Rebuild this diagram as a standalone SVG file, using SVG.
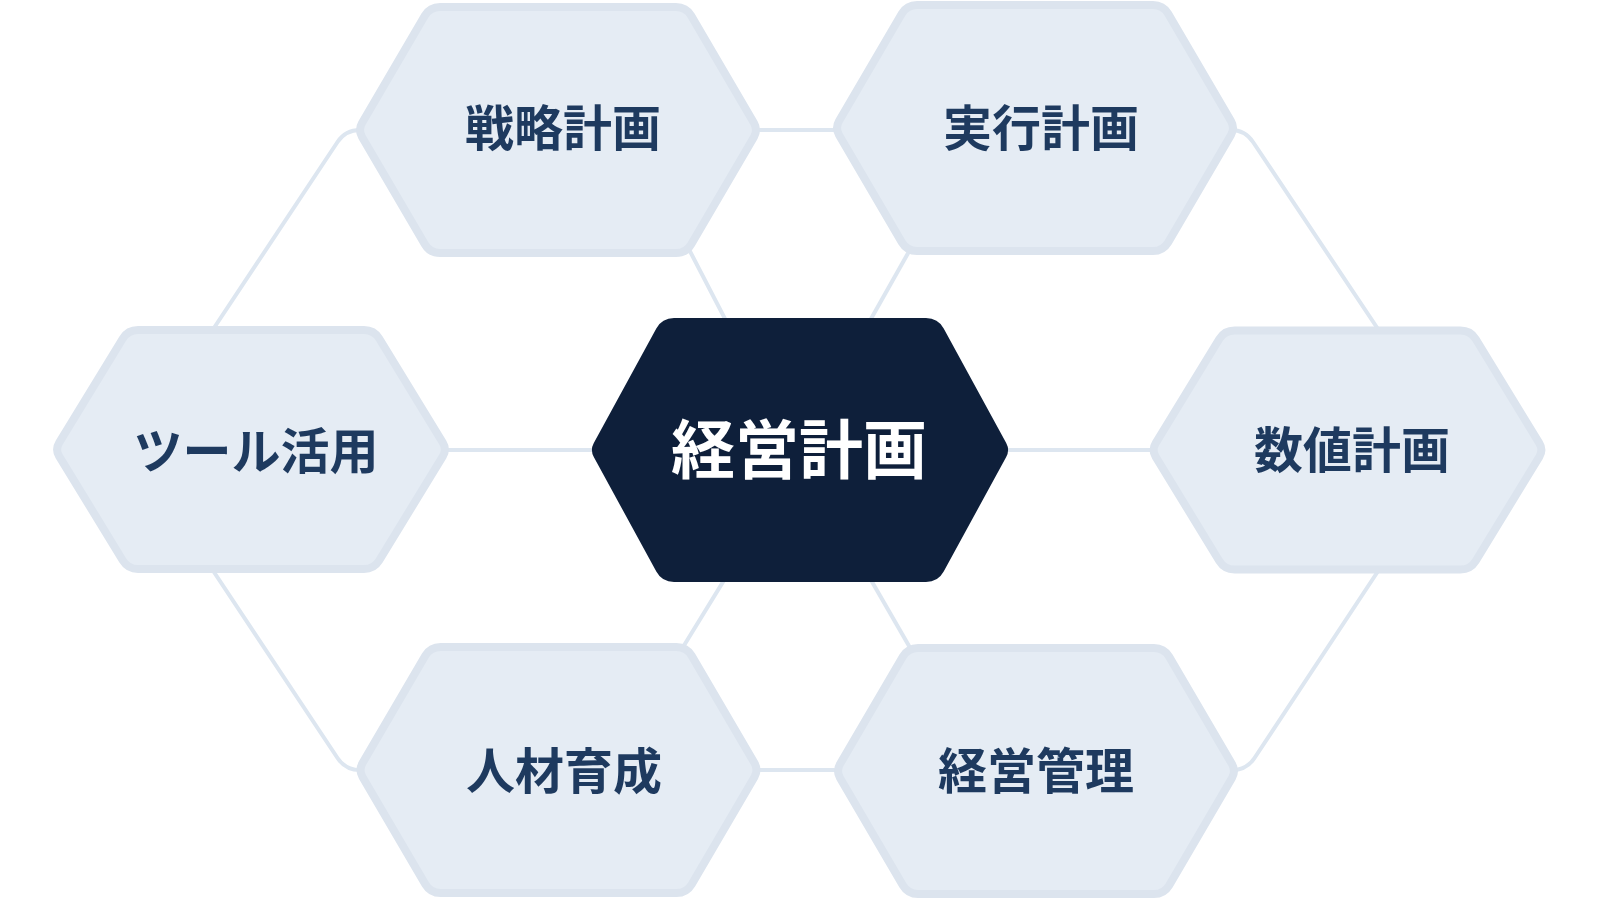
<svg xmlns="http://www.w3.org/2000/svg" xmlns:xlink="http://www.w3.org/1999/xlink" width="1600" height="900" viewBox="0 0 1600 900">
  <style>
    .hex { fill: #e5ecf4; stroke: #dce4ee; stroke-width: 8; stroke-linejoin: round; }
    .core { fill: #0e1f3a; }
    .lbl { font-family: "Noto Sans CJK JP", "Noto Sans", sans-serif; font-weight: 700; font-size: 49px; fill: #1e3a5f; text-anchor: middle; dominant-baseline: central; }
    .lbl-core { font-family: "Noto Sans CJK JP", "Noto Sans", sans-serif; font-weight: 700; font-size: 64px; fill: #ffffff; text-anchor: middle; dominant-baseline: central; }
    .conn { fill: none; stroke: #dde6f0; stroke-width: 4; stroke-linecap: round; stroke-linejoin: round; }
  </style>
  <defs>
    <path id="hexA" d="M -196,-6.9 L -133.1,-114.4 Q -128,-123 -118,-123 L 118,-123 Q 128,-123 133.1,-114.4 L 196,-6.9 Q 200,0 196,6.9 L 133.1,114.4 Q 128,123 118,123 L -118,123 Q -128,123 -133.1,114.4 L -196,6.9 Q -200,0 -196,-6.9 Z"/>
    <path id="hexB" d="M -191.8,-6.8 L -128.2,-111 Q -123,-119.5 -113,-119.5 L 113,-119.5 Q 123,-119.5 128.2,-111 L 191.8,-6.8 Q 196,0 191.8,6.8 L 128.2,111 Q 123,119.5 113,119.5 L -113,119.5 Q -123,119.5 -128.2,111 L -191.8,6.8 Q -196,0 -191.8,-6.8 Z"/>
    <path id="hexC" d="M -206.2,-7 L -143.7,-121.5 Q -138,-132 -126,-132 L 126,-132 Q 138,-132 143.7,-121.5 L 206.2,-7 Q 210,0 206.2,7 L 143.7,121.5 Q 138,132 126,132 L -126,132 Q -138,132 -143.7,121.5 L -206.2,7 Q -210,0 -206.2,-7 Z"/>
  </defs>
  <rect x="0" y="0" width="1600" height="900" fill="#ffffff"/>

  <g id="connectors">
    <line class="conn" x1="558" y1="130" x2="1035" y2="130"/>
    <line class="conn" x1="558" y1="770" x2="1036" y2="770"/>
    <line class="conn" x1="251" y1="450" x2="1347" y2="450"/>
    <line class="conn" x1="793" y1="450" x2="680" y2="232"/>
    <line class="conn" x1="797" y1="450" x2="920" y2="232"/>
    <line class="conn" x1="804" y1="450" x2="672" y2="665"/>
    <line class="conn" x1="796" y1="450" x2="920" y2="665"/>
    <path class="conn" d="M 200,349 L 337.5,142 Q 345.5,130 360,130 L 400,130"/>
    <path class="conn" d="M 1200,130 L 1231,130 Q 1245,130 1253,142 L 1392,350"/>
    <path class="conn" d="M 200,551 L 337.5,758 Q 345.5,770 360,770 L 400,770"/>
    <path class="conn" d="M 1200,770 L 1232,770 Q 1246.6,770 1254.5,758 L 1392,550"/>
  </g>

  <g id="node-senryaku">
    <use xlink:href="#hexA" href="#hexA" class="hex" transform="translate(558,130)"/>
    <text class="lbl" x="563" y="124">戦略計画</text>
  </g>
  <g id="node-jikko">
    <use xlink:href="#hexA" href="#hexA" class="hex" transform="translate(1035,128)"/>
    <text class="lbl" x="1041" y="124">実行計画</text>
  </g>
  <g id="node-tool">
    <use xlink:href="#hexB" href="#hexB" class="hex" transform="translate(251,449.5)"/>
    <text class="lbl" x="256" y="447">ツール活用</text>
  </g>
  <g id="node-suchi">
    <use xlink:href="#hexB" href="#hexB" class="hex" transform="translate(1347.5,450)"/>
    <text class="lbl" x="1352" y="446">数値計画</text>
  </g>
  <g id="node-jinzai">
    <use xlink:href="#hexA" href="#hexA" class="hex" transform="translate(558.5,770)"/>
    <text class="lbl" x="564" y="767">人材育成</text>
  </g>
  <g id="node-kanri">
    <use xlink:href="#hexA" href="#hexA" class="hex" transform="translate(1036,771)"/>
    <text class="lbl" x="1036" y="767">経営管理</text>
  </g>
  <g id="node-center">
    <use xlink:href="#hexC" href="#hexC" class="core" transform="translate(800,450)"/>
    <text class="lbl-core" x="799" y="445">経営計画</text>
  </g>
</svg>
